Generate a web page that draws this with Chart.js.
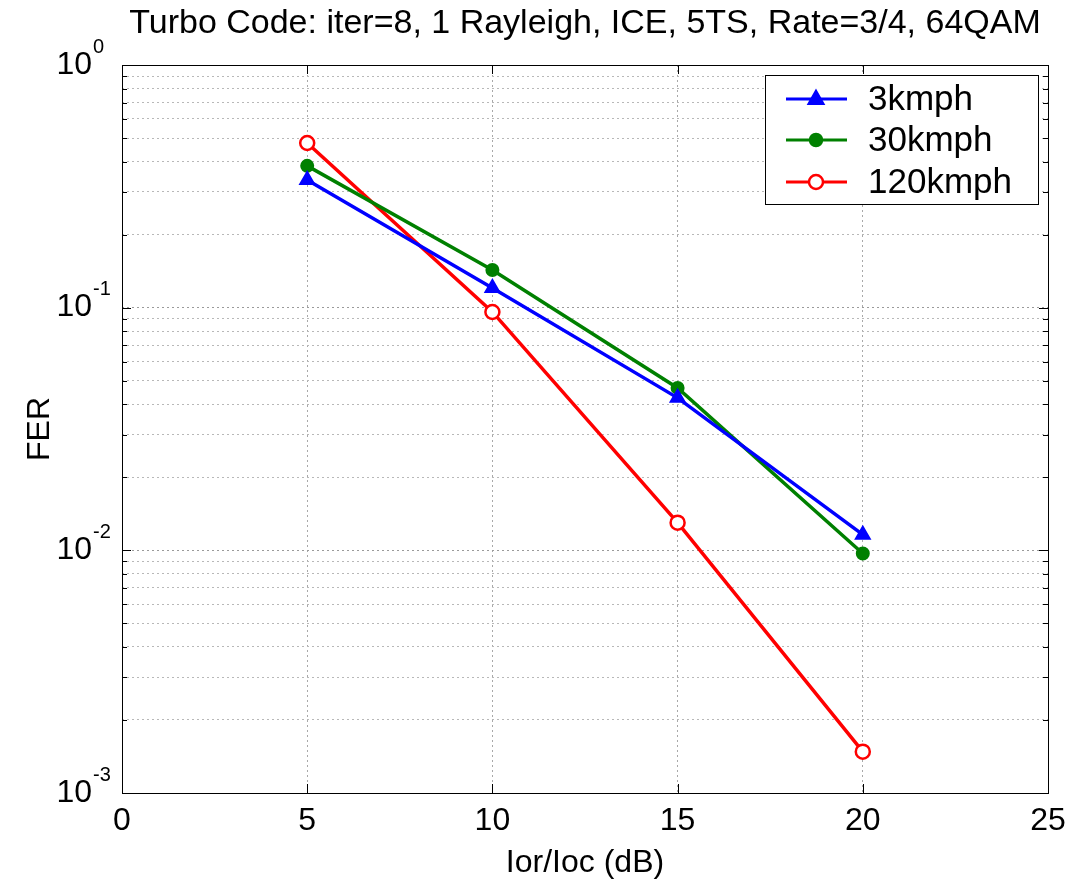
<!DOCTYPE html>
<html>
<head>
<meta charset="utf-8">
<script src="https://cdn.jsdelivr.net/npm/chart.js@4"></script>
<style>
  html, body { margin: 0; padding: 0; background: #fff; }
  #wrap { width: 1075px; height: 882px; }
</style>
</head>
<body>
<div id="wrap"><canvas id="ferChart" width="1075" height="882"></canvas></div>
<script>
// data
const snrDb = [5, 10, 15, 20];
const fer3kmph = [0.336, 0.1205, 0.0425, 0.0116];
const fer30kmph = [0.384, 0.143, 0.0467, 0.0097];
const fer120kmph = [0.477, 0.096, 0.0130, 0.00148];
const seriesNames = ['3kmph', '30kmph', '120kmph'];
const xTicks = [0, 5, 10, 15, 20, 25];
const yDecades = [-3, -2, -1, 0];

const FONT = '"Liberation Sans", Arial, sans-serif';

function toPoints(xs, ys) {
    return xs.map((x, i) => ({ x: x, y: ys[i] }));
}

// every log tick 1..9 x 10^n inside the range
const yTickValues = [];
yDecades.forEach(d => {
    for (let m = 1; m <= 9; m++) {
        const v = m * Math.pow(10, d);
        if (v <= 1.0000001) yTickValues.push(v);
    }
});

function isDecade(v) {
    const l = Math.log10(v);
    return Math.abs(l - Math.round(l)) < 1e-6;
}

const matlabAxes = {
    id: 'matlabAxes',
    afterDraw(chart) {
        const c = chart.ctx;
        const a = chart.chartArea;
        const xs = chart.scales.x;
        const ys = chart.scales.y;
        c.save();

        // axes box
        c.strokeStyle = '#000';
        c.lineWidth = 1;
        c.setLineDash([]);
        c.strokeRect(a.left + 0.5, a.top + 0.5, a.right - a.left, a.bottom - a.top);

        // inward tick marks
        c.beginPath();
        xTicks.forEach(t => {
            const px = Math.round(xs.getPixelForValue(t)) + 0.5;
            c.moveTo(px, a.bottom); c.lineTo(px, a.bottom - 9);
            c.moveTo(px, a.top); c.lineTo(px, a.top + 9);
        });
        yTickValues.forEach(v => {
            const py = Math.round(ys.getPixelForValue(v)) + 0.5;
            const len = isDecade(v) ? 9 : 5;
            c.moveTo(a.left, py); c.lineTo(a.left + len, py);
            c.moveTo(a.right, py); c.lineTo(a.right - len, py);
        });
        c.stroke();

        // y tick labels as 10^n
        c.fillStyle = '#000';
        c.textBaseline = 'middle';
        yDecades.forEach(d => {
            const py = ys.getPixelForValue(Math.pow(10, d));
            c.font = '32px ' + FONT;
            c.textAlign = 'right';
            c.fillText('10', 92, py);
            c.font = '20px ' + FONT;
            c.textAlign = 'left';
            c.fillText(String(d), 93, py - 18);
        });

        // title
        c.font = '34px ' + FONT;
        c.textAlign = 'center';
        c.textBaseline = 'middle';
        c.fillText('Turbo Code: iter=8, 1 Rayleigh, ICE, 5TS, Rate=3/4, 64QAM', 585, 24);

        // legend
        const lx = 765, ly = 75, lw = 273, lh = 129;
        c.fillStyle = '#fff';
        c.fillRect(lx, ly, lw, lh);
        c.strokeStyle = '#000';
        c.lineWidth = 1;
        c.strokeRect(lx + 0.5, ly + 0.5, lw, lh);
        const rowY = [99, 140, 182];
        chart.data.datasets.forEach((ds, i) => {
            const y = rowY[i];
            c.strokeStyle = ds.borderColor;
            c.lineWidth = 3;
            c.beginPath();
            c.moveTo(786, y); c.lineTo(847, y);
            c.stroke();
            c.fillStyle = ds.pointBackgroundColor;
            c.strokeStyle = ds.borderColor;
            c.lineWidth = 2.5;
            c.beginPath();
            if (ds.pointStyle === 'triangle') {
                const r = 8;
                c.moveTo(816, y - r);
                c.lineTo(816 + r * 0.9, y + r * 0.6);
                c.lineTo(816 - r * 0.9, y + r * 0.6);
                c.closePath();
            } else {
                c.arc(816, y, ds.pointRadius, 0, Math.PI * 2);
            }
            c.fill();
            c.stroke();
            c.fillStyle = '#000';
            c.font = '35px ' + FONT;
            c.textAlign = 'left';
            c.textBaseline = 'middle';
            c.fillText(ds.label, 868, y + 1);
        });
        c.restore();
    }
};

const ctx = document.getElementById('ferChart').getContext('2d');
const ferChart = new Chart(ctx, {
    type: 'line',
    data: {
        datasets: [{
            label: seriesNames[0],
            data: toPoints(snrDb, fer3kmph),
            borderColor: '#0000ff',
            pointBackgroundColor: '#0000ff',
            pointStyle: 'triangle',
            pointRadius: 8,
            borderWidth: 3.5,
            pointBorderWidth: 2
        }, {
            label: seriesNames[1],
            data: toPoints(snrDb, fer30kmph),
            borderColor: '#008000',
            pointBackgroundColor: '#008000',
            pointStyle: 'circle',
            pointRadius: 6,
            borderWidth: 3.5,
            pointBorderWidth: 2
        }, {
            label: seriesNames[2],
            data: toPoints(snrDb, fer120kmph),
            borderColor: '#ff0000',
            pointBackgroundColor: '#ffffff',
            pointStyle: 'circle',
            pointRadius: 7,
            borderWidth: 3.5,
            pointBorderWidth: 2.5
        }]
    },
    options: {
        responsive: false,
        animation: false,
        events: [],
        layout: { padding: { left: 0, right: 27, top: 65, bottom: 0 } },
        plugins: {
            legend: { display: false },
            title: { display: false },
            tooltip: { enabled: false }
        },
        scales: {
            x: {
                type: 'linear',
                min: 0,
                max: 25,
                afterBuildTicks: scale => { scale.ticks = xTicks.map(v => ({ value: v })); },
                afterFit: scale => { scale.height = 89; },
                ticks: {
                    color: '#000',
                    font: { family: FONT, size: 32 },
                    padding: 9,
                    maxRotation: 0
                },
                grid: {
                    color: '#a8a8a8',
                    lineWidth: 1,
                    drawTicks: false
                },
                border: { display: false, dash: [2, 3] },
                title: {
                    display: true,
                    text: 'Ior/Ioc (dB)',
                    color: '#000',
                    font: { family: FONT, size: 32 },
                    padding: { top: 0, bottom: 0 }
                }
            },
            y: {
                type: 'logarithmic',
                min: 0.001,
                max: 1,
                afterBuildTicks: scale => { scale.ticks = yTickValues.map(v => ({ value: v })); },
                afterFit: scale => { scale.width = 122; },
                ticks: { display: false },
                grid: {
                    color: ctx => (ctx.tick && isDecade(ctx.tick.value)) ? '#9a9a9a' : '#b8b8b8',
                    lineWidth: 1,
                    drawTicks: false
                },
                border: { display: false, dash: [2, 3] },
                title: {
                    display: true,
                    text: 'FER',
                    color: '#000',
                    font: { family: FONT, size: 32 },
                    padding: { top: 21, bottom: 0 }
                }
            }
        }
    },
    plugins: [matlabAxes]
});
</script>
</body>
</html>
